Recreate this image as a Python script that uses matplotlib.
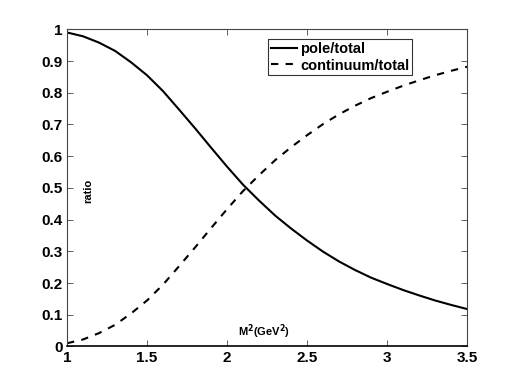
import matplotlib
matplotlib.use("Agg")
import matplotlib.pyplot as plt

plt.rcParams['font.family'] = ['Liberation Sans', 'DejaVu Sans']
plt.rcParams['font.weight'] = 'bold'

m2 = [1.0, 1.1, 1.2, 1.3, 1.4, 1.5, 1.6, 1.7, 1.8, 1.9, 2.0, 2.1, 2.2,
      2.3, 2.4, 2.5, 2.6, 2.7, 2.8, 2.9, 3.0, 3.1, 3.2, 3.3, 3.4, 3.5]
pole = [0.990, 0.978, 0.958, 0.932, 0.896, 0.855, 0.805, 0.747, 0.688,
        0.627, 0.567, 0.510, 0.460, 0.413, 0.372, 0.334, 0.299, 0.268,
        0.241, 0.217, 0.197, 0.178, 0.161, 0.145, 0.131, 0.118]
continuum = [0.010, 0.022, 0.042, 0.068, 0.104, 0.145, 0.195, 0.253,
             0.312, 0.373, 0.433, 0.490, 0.540, 0.587, 0.628, 0.666,
             0.701, 0.732, 0.759, 0.783, 0.803, 0.822, 0.839, 0.855,
             0.869, 0.882]
xticks = [1, 1.5, 2, 2.5, 3, 3.5]
xticklabels = ['1', '1.5', '2', '2.5', '3', '3.5']
yticks = [0, 0.1, 0.2, 0.3, 0.4, 0.5, 0.6, 0.7, 0.8, 0.9, 1]
yticklabels = ['0', '0.1', '0.2', '0.3', '0.4', '0.5', '0.6', '0.7', '0.8', '0.9', '1']

fig = plt.figure(figsize=(5.16, 3.91), dpi=100)
ax = fig.add_axes([0.13, 0.114, 0.775, 0.811])

ax.plot(m2, pole, color='black', linewidth=1.5, linestyle='-', label='pole/total')
ax.plot(m2, continuum, color='black', linewidth=1.5, linestyle=(0, (3.5, 3.5)),
        label='continuum/total')

ax.set_xlim(1, 3.5)
ax.set_ylim(0, 1)
ax.set_xticks(xticks)
ax.set_xticklabels(xticklabels, fontsize=11, fontweight='bold')
ax.set_yticks(yticks)
ax.set_yticklabels(yticklabels, fontsize=11, fontweight='bold')
ax.tick_params(direction='in', top=True, right=True, length=4, width=0.6,
               color='#444444', pad=3)
for s in ax.spines.values():
    s.set_linewidth(0.8)
    s.set_color('#444444')
ax.spines['bottom'].set_color('black')
ax.spines['bottom'].set_linewidth(1.2)

ax.text(0.5 * (1 + 3.5) - 0.02, 0.018, r'M$^{\mathbf{2}}$(GeV$^{\mathbf{2}}$)',
        fontsize=8, fontweight='bold', ha='center', va='bottom')
ax.text(1.13, 0.49, 'ratio', fontsize=8, fontweight='bold', rotation=90,
        ha='center', va='center')

leg = ax.legend(loc='upper left', bbox_to_anchor=(0.503, 0.968), fontsize=10.5,
                frameon=True, fancybox=False, handlelength=1.8, handletextpad=0.2,
                borderpad=0.2, labelspacing=0.15, borderaxespad=0)
leg.get_frame().set_edgecolor('black')
leg.get_frame().set_linewidth(0.8)
for t in leg.get_texts():
    t.set_fontweight('bold')

fig.savefig('out.png', dpi=100)
